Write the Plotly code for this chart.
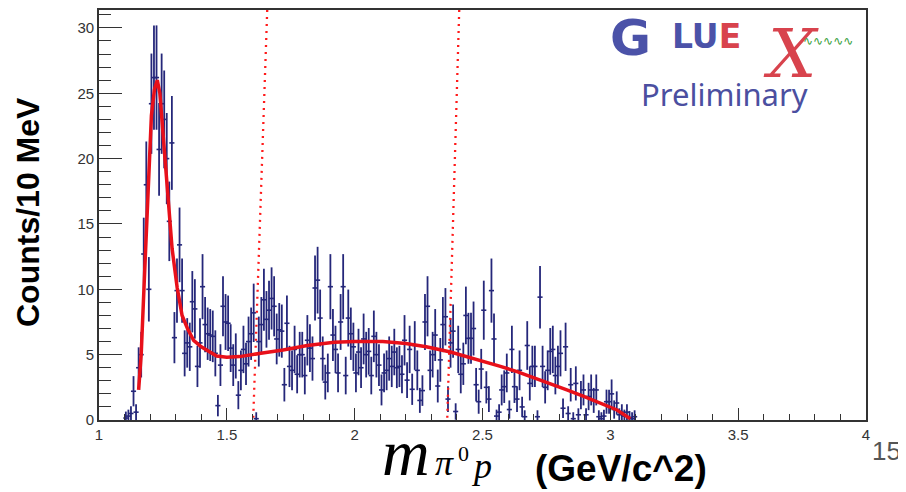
import numpy as np
import plotly.graph_objects as go

# ---------------- data ----------------
bin_lo = 1.10          # first bin low edge (GeV/c^2)
bin_w = 0.01           # 10 MeV bins
counts = [
    0.15, 0.3, 0.5, 2.2, 0.6, 4.0, 5.0, 12.7, 18.0, 10.0,
    24.2, 26.2, 26.2, 20.7, 24.2, 23.0, 20.0, 15.2, 21.2, 6.3,
    9.9, 13.4, 9.9, 5.1, 5.9, 5.6, 9.05, 8.5, 4.1, 5.9,
    10.2, 7.3, 6.6, 6.5, 6.4, 5.1, 1.1, 4.2, 8.7, 7.5,
    7.4, 5.5, 4.2, 4.9, 1.9, 3.8, 5.4, 4.3, 6.0, 6.6,
    8.2, 0.1, 6.0, 7.3, 9.2, 7.7, 8.4, 9.3, 8.7, 6.2,
    6.9, 6.8, 2.7, 7.4, 4.1, 3.8, 5.4, 3.5, 5.0, 5.0,
    3.4, 6.1, 5.5, 4.7, 10.1, 10.7, 7.8, 4.7, 2.9, 3.6,
    10.2, 6.5, 5.4, 3.6, 7.5, 10.2, 3.4, 7.8, 6.6, 5.6,
    3.6, 5.2, 4.0, 6.2, 5.0, 5.25, 3.4, 6.4, 5.0, 4.2,
    2.3, 3.6, 3.8, 4.7, 4.1, 5.2, 4.0, 4.1, 3.5, 6.1,
    3.05, 5.4, 2.35, 5.7, 3.8, 1.5, 2.25, 7.5, 8.7, 3.8,
    5.0, 6.5, 2.6, 4.6, 7.3, 7.9, 1.6, 5.9, 6.8, 0.65,
    5.4, 3.5, 4.3, 8.0, 6.25, 6.25, 7.0, 2.7, 1.4, 3.9,
    8.4, 2.5, 1.6, 9.9, 6.2, 0.3, 0.6, 2.3, 2.55, 3.6,
    0.8, 5.4, 2.55, 1.6, 3.8, 1.0, 0.25, 5.7, 2.8, 4.1,
    4.1, 0.25, 9.4, 4.1, 2.5, 3.8, 5.25, 5.4, 3.4, 4.1,
    5.1, 0.9, 5.6, 0.5, 2.7, 0.1, 2.8, 0.4, 1.9, 2.3,
    0.4, 1.8, 2.3, 1.5, 2.3, 0.25, 0.1, 0.3, 1.4, 1.4,
    2.0, 0.8, 1.3, 0.4, 0.6, 0.3, 0.6, 0.2, 0.1, 0.25,
]
err_scale = 0.78       # weighted-histogram errors relative to sqrt(N)

fit_x = [1.155, 1.165, 1.177, 1.187, 1.195, 1.205, 1.217, 1.228, 1.238, 1.248,
         1.260, 1.273, 1.286, 1.306, 1.325, 1.346, 1.370, 1.400, 1.460, 1.500,
         1.550, 1.633, 1.720, 1.815, 1.920, 2.000, 2.110, 2.200, 2.280, 2.375,
         2.450, 2.505, 2.570, 2.635, 2.700, 2.766, 2.830, 2.896, 2.960, 3.026, 3.078]
fit_y = [2.3, 5.0, 10.6, 15.7, 19.5, 23.3, 25.3, 26.0, 25.0, 22.6,
         19.8, 15.9, 13.1, 10.1, 8.0, 7.0, 6.1, 5.6, 4.9, 4.8,
         4.85, 5.1, 5.35, 5.7, 5.95, 6.0, 6.0, 5.85, 5.6, 5.2,
         4.8, 4.45, 4.1, 3.7, 3.25, 2.8, 2.3, 1.8, 1.3, 0.77, 0.1]

cut_x_top = [1.658, 2.409]
cut_x_bottom = [1.603, 2.362]

x_ticks = [1, 1.5, 2, 2.5, 3, 3.5, 4]
x_ticklabels = ["1", "1.5", "2", "2.5", "3", "3.5", "4"]
y_ticks = [0, 5, 10, 15, 20, 25, 30]
x_range = [1, 4]
y_range = [0, 31.37]

# ---------------- figure ----------------
centers = [bin_lo + bin_w * (i + 0.5) for i in range(len(counts))]
errs = [err_scale * np.sqrt(max(c, 0.4)) for c in counts]

fig = go.Figure()

NAVY = "#25277a"
RED = "#e8101a"

fig.add_trace(go.Scatter(
    x=centers, y=counts, mode="markers",
    marker=dict(size=1, color=NAVY),
    error_y=dict(type="data", array=errs, visible=True, color=NAVY, thickness=1.8, width=0),
    error_x=dict(type="constant", value=bin_w, visible=True, color=NAVY, thickness=1.6, width=0),
    showlegend=False, hoverinfo="skip"))

fig.add_trace(go.Scatter(
    x=fit_x, y=fit_y, mode="lines", line=dict(color=RED, width=3.5),
    showlegend=False, hoverinfo="skip"))

for xt, xb in zip(cut_x_top, cut_x_bottom):
    fig.add_trace(go.Scatter(
        x=[xt, xb], y=[y_range[1], y_range[0]], mode="lines",
        line=dict(color="#ff1a1a", width=2.3, dash="2px,5px"),
        showlegend=False, hoverinfo="skip"))

axis_font = dict(family="Liberation Sans, Arial, sans-serif", size=15, color="#333333")
fig.update_xaxes(
    range=x_range, tickvals=x_ticks, ticktext=x_ticklabels, automargin=False,
    ticks="inside", ticklen=12, tickwidth=1.2, tickcolor="#333333",
    minor=dict(dtick=0.1, tick0=1, ticks="inside", ticklen=6, tickwidth=1.2, tickcolor="#333333"),
    showline=True, linecolor="#333333", linewidth=1.6, mirror=True,
    showgrid=False, zeroline=False, tickfont=axis_font)
fig.update_yaxes(
    range=y_range, tickvals=y_ticks, automargin=False,
    ticks="inside", ticklen=23, tickwidth=1.2, tickcolor="#333333",
    minor=dict(dtick=1, tick0=0, ticks="inside", ticklen=12, tickwidth=1.2, tickcolor="#333333"),
    showline=True, linecolor="#333333", linewidth=1.6, mirror=True,
    showgrid=False, zeroline=False, tickfont=axis_font)

# The page is rendered with the browser's default 8px body margin,
# so the figure is laid out 8px smaller and shifted accordingly.
OFF = 8
W, H = 906 - OFF, 492 - OFF
L, T = 99 - OFF, 10 - OFF
R, B = W - (866 - OFF), H - (420 - OFF)
pw, ph = W - L - R, H - T - B


def px(xp):
    return (xp - OFF - L) / pw


def py(yp):
    return (H - B - (yp - OFF)) / ph


ann = []
sans = "Liberation Sans, Arial, sans-serif"
serif = "Liberation Serif, Times New Roman, serif"
ann.append(dict(text="<b>Counts/10 MeV</b>", x=px(28), y=py(212), textangle=-90,
                font=dict(family=sans, size=32, color="#000")))
ann.append(dict(text="<i>m</i>", x=px(406), y=py(452), font=dict(family=serif, size=66, color="#000")))
ann.append(dict(text="<i>π</i>", x=px(444), y=py(463), font=dict(family=serif, size=36, color="#000")))
ann.append(dict(text="0", x=px(463), y=py(453), font=dict(family=serif, size=22, color="#000")))
ann.append(dict(text="<i>p</i>", x=px(481), y=py(466), font=dict(family=serif, size=36, color="#000")))
ann.append(dict(text="<b>(GeV/c^2)</b>", x=px(621), y=py(468),
                font=dict(family=sans, size=37, color="#000")))
ann.append(dict(text="15", x=px(903), y=py(451), xanchor="right",
                font=dict(family=sans, size=26, color="#555555")))
# GlueX logo (text rendition)
ann.append(dict(text="<b>G</b>", x=px(630), y=py(38),
                font=dict(family="DejaVu Sans, sans-serif", size=50, color="#4b52a8")))
ann.append(dict(text="<b>LU<span style='color:#d8434d'>E</span></b>", x=px(706), y=py(37),
                font=dict(family="DejaVu Sans, sans-serif", size=33, color="#4b52a8")))
ann.append(dict(text="<i>X</i>", x=px(791), y=py(54),
                font=dict(family="DejaVu Serif, serif", size=68, color="#d8434d")))
ann.append(dict(text="∿∿∿∿∿", x=px(828), y=py(41),
                font=dict(family="DejaVu Sans, sans-serif", size=12, color="#3aa040")))
ann.append(dict(text="Preliminary", x=px(724), y=py(94),
                font=dict(family="Noto Sans, sans-serif", size=31, color="#4b4fa0")))
for a in ann:
    a.setdefault("xanchor", "center")
    a.update(xref="paper", yref="paper", showarrow=False, yanchor="middle")

fig.update_layout(
    width=W, height=H, margin=dict(l=L, r=R, t=T, b=B),
    paper_bgcolor="white", plot_bgcolor="white",
    annotations=ann, showlegend=False)

fig.write_html("out.html")
